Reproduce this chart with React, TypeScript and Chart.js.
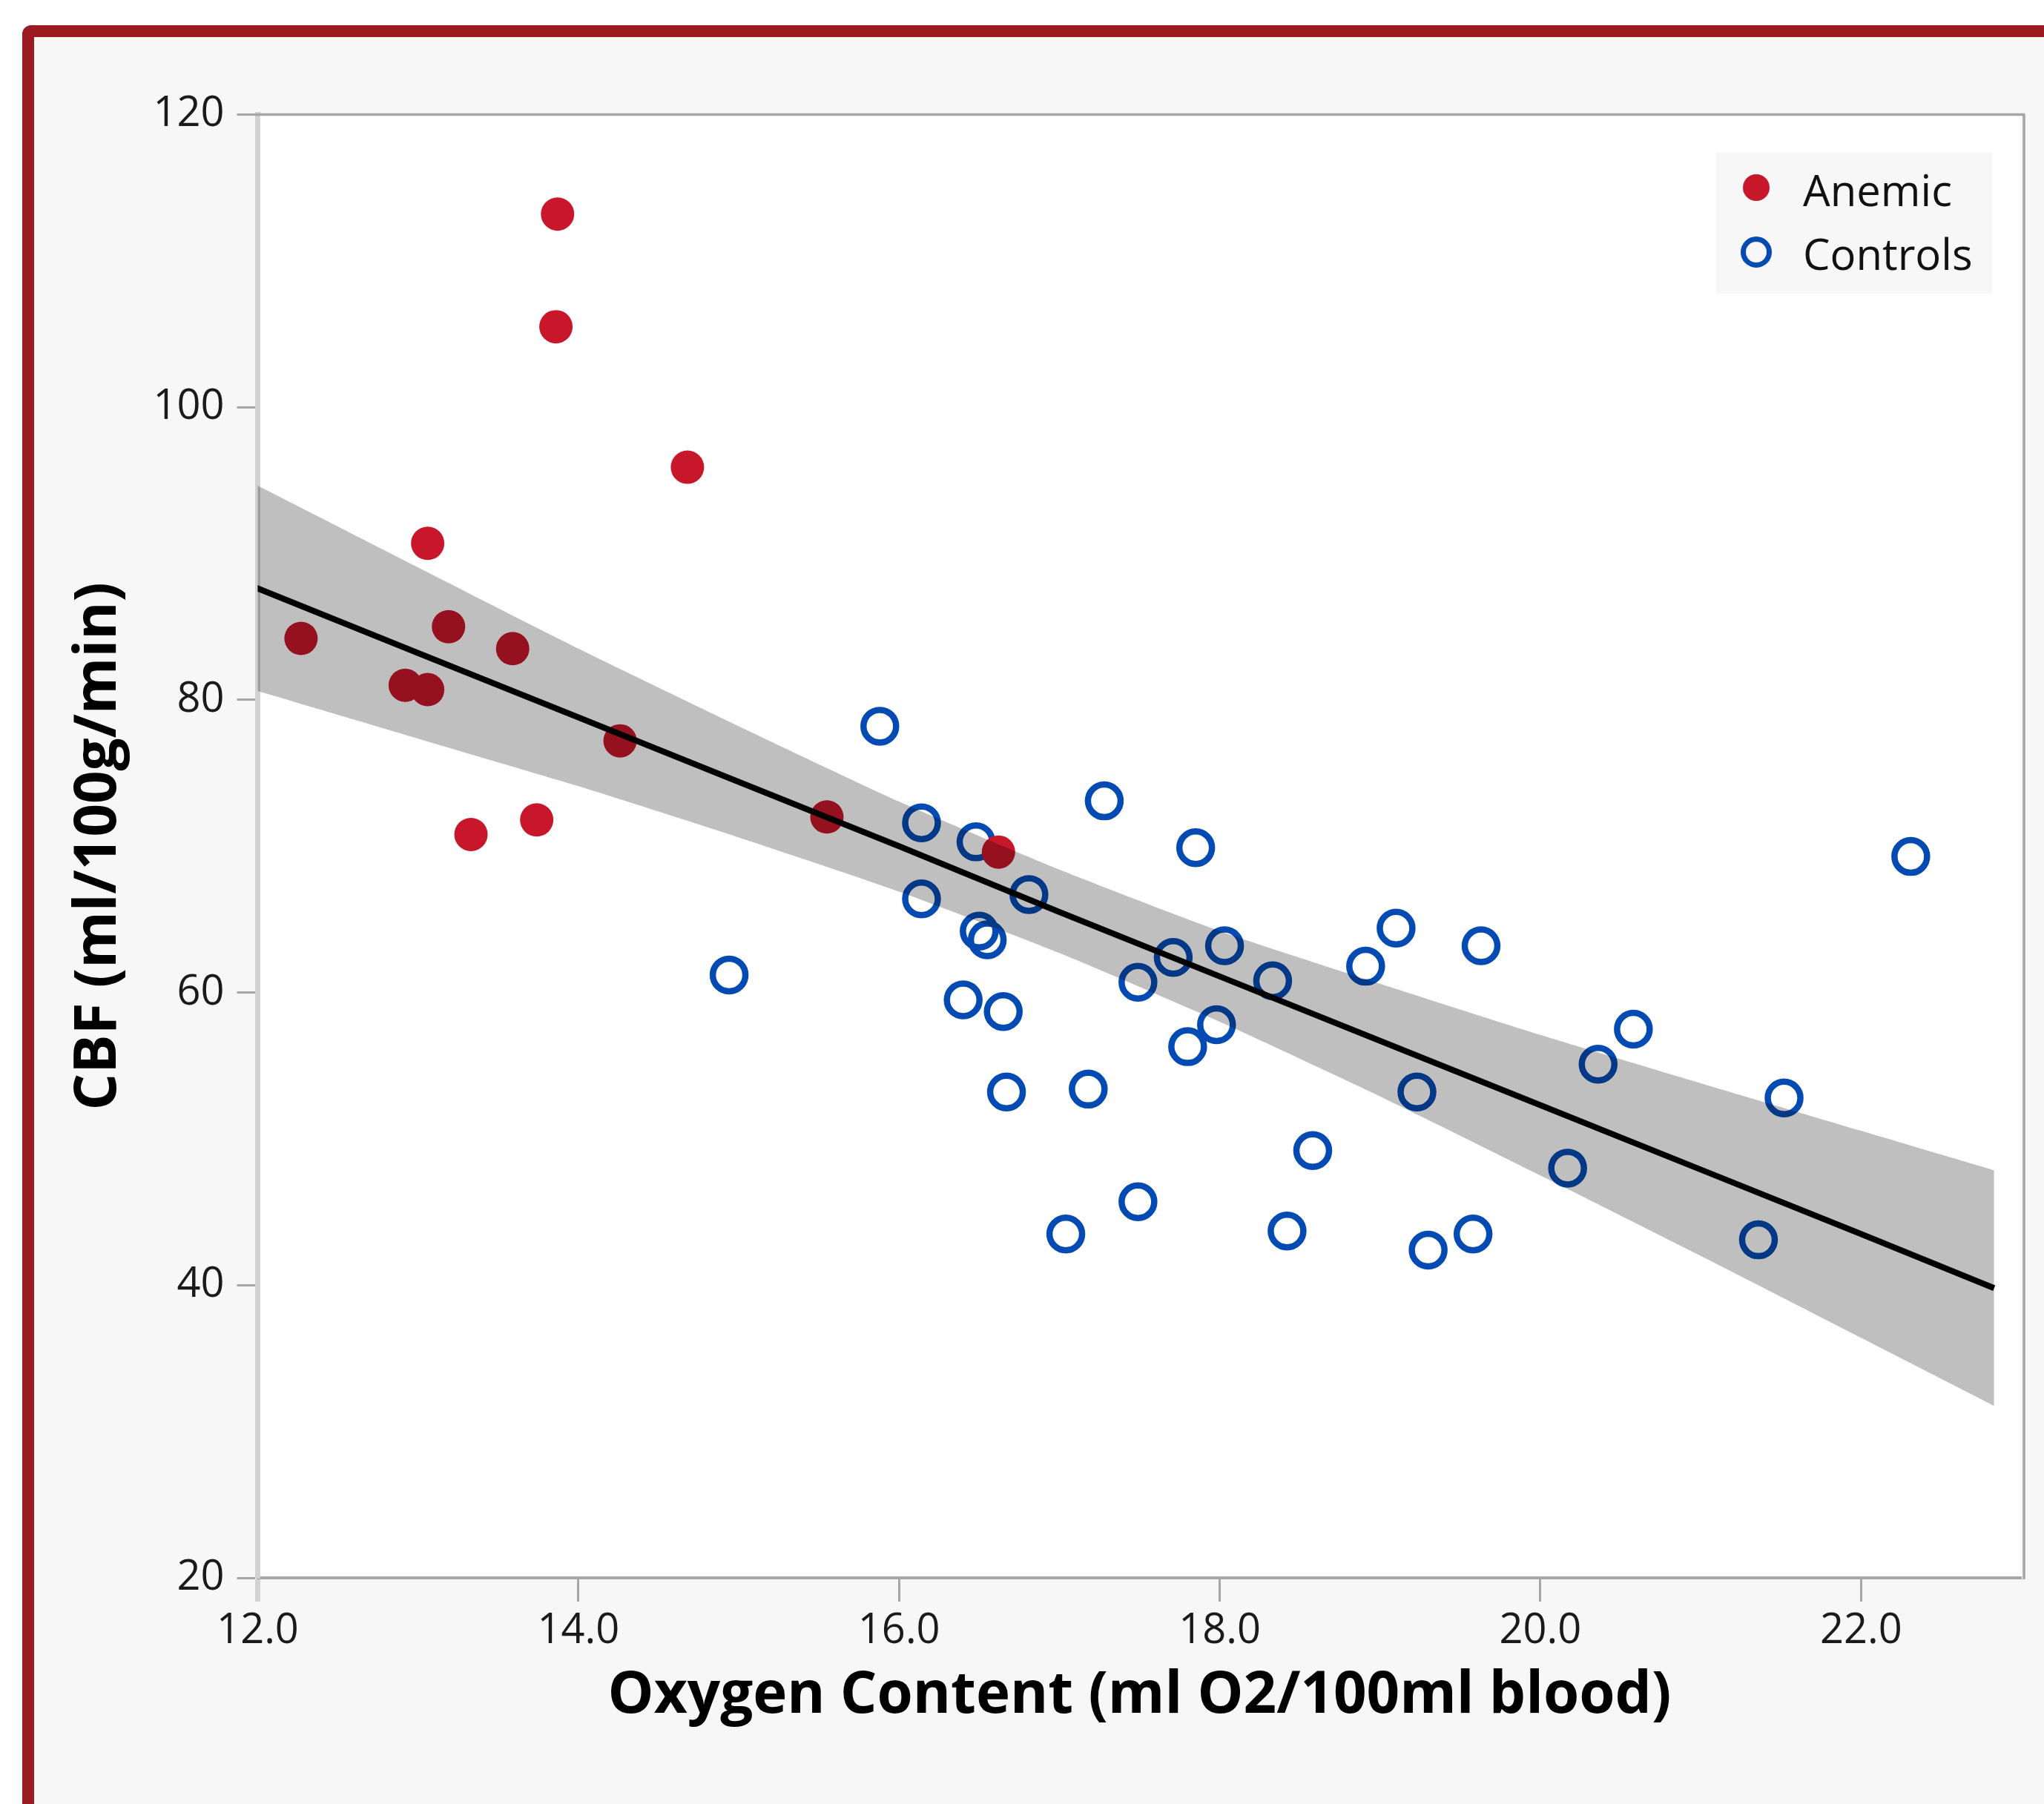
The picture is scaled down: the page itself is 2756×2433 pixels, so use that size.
import React, { useEffect, useRef } from 'react';
import { Chart, registerables } from 'chart.js';

Chart.register(...registerables);

// ---------- data ----------
const anemicLabel = 'Anemic';
const controlsLabel = 'Controls';

const anemicX = [12.27, 12.92, 13.06, 13.06, 13.19, 13.33, 13.59, 13.74, 13.87, 13.86, 14.26, 14.68, 15.55, 16.62];
const anemicY = [84.2, 81.0, 80.7, 90.7, 85.0, 70.8, 83.5, 71.8, 113.2, 105.5, 77.2, 95.9, 72.0, 69.6];

const controlsX = [14.94, 15.88, 16.14, 16.14, 16.40, 16.48, 16.50, 16.55, 16.65, 16.67, 16.81, 17.04, 17.18, 17.28, 17.49, 17.49, 17.71, 17.80, 17.85, 17.98, 18.03, 18.33, 18.42, 18.58, 18.91, 19.10, 19.23, 19.30, 19.58, 19.63, 20.17, 20.36, 20.58, 21.36, 21.52, 22.31];
const controlsY = [61.2, 78.2, 71.6, 66.4, 59.5, 70.3, 64.2, 63.6, 58.7, 53.2, 66.7, 43.5, 53.4, 73.1, 60.7, 45.7, 62.4, 56.3, 69.9, 57.8, 63.2, 60.8, 43.7, 49.2, 61.8, 64.4, 53.2, 42.4, 43.5, 63.2, 48.0, 55.1, 57.5, 43.1, 52.8, 69.3];

// fitted line and its confidence band, read at these x positions
const fitX = [11.97, 13, 14, 15, 16, 17, 18, 19, 20, 21, 22, 22.83];
const fitY = [87.75, 83.2, 78.8, 74.4, 70.0, 65.5, 61.1, 56.7, 52.3, 47.9, 43.5, 39.8];
const bandUpper = [94.8, 89.05, 83.5, 78.2, 73.05, 68.4, 64.2, 60.6, 57.1, 53.8, 50.55, 47.85];
const bandLower = [80.7, 77.35, 74.1, 70.6, 66.9, 62.7, 58.0, 52.9, 47.5, 42.0, 36.4, 31.75];

const xTicks = [12, 14, 16, 18, 20, 22];
const yTicks = [20, 40, 60, 80, 100, 120];

const xTitle = 'Oxygen Content (ml O2/100ml blood)';
const yTitle = 'CBF (ml/100g/min)';

// ---------- styles ----------
const W = 2756;
const H = 2433;
const RED = '#c8172b';
const BLUE = '#034bb2';
const FONT = "'Open Sans', 'Noto Sans', sans-serif";
const X_AXIS_H = 209;

const pts = (xs: number[], ys: number[]) => xs.map((x, i) => ({ x, y: ys[i] }));

export default function App() {
  const ref = useRef<HTMLCanvasElement | null>(null);

  useEffect(() => {
    const canvas = ref.current;
    if (!canvas) return;

    const plotBg = {
      id: 'plotBg',
      beforeDraw(chart: any) {
        const { ctx, chartArea: a } = chart;
        ctx.save();
        ctx.fillStyle = '#ffffff';
        ctx.fillRect(a.left, a.top, a.right - a.left, a.bottom - a.top);
        ctx.restore();
      },
    };

    const frame = {
      id: 'frame',
      afterDraw(chart: any) {
        const { ctx, chartArea: a } = chart;
        ctx.save();
        ctx.strokeStyle = '#a6a6a6';
        ctx.lineWidth = 3.5;
        ctx.beginPath();
        ctx.moveTo(a.left - 3.5, a.top);
        ctx.lineTo(a.right + 5, a.top);
        ctx.moveTo(a.right + 3.5, a.top);
        ctx.lineTo(a.right + 3.5, a.bottom + 2);
        ctx.stroke();
        ctx.restore();
      },
    };

    const chart = new Chart(canvas, {
      type: 'scatter',
      data: {
        datasets: [
          {
            type: 'line',
            label: 'fit',
            data: pts(fitX, fitY),
            borderColor: '#000000',
            borderWidth: 8,
            pointRadius: 0,
            fill: false,
            tension: 0,
            order: 0,
          } as any,
          {
            type: 'line',
            label: 'upper',
            data: pts(fitX, bandUpper),
            borderWidth: 0,
            borderColor: 'rgba(0,0,0,0)',
            pointRadius: 0,
            fill: false,
            tension: 0.2,
            order: 1,
            clip: false,
          } as any,
          {
            type: 'line',
            label: 'lower',
            data: pts(fitX, bandLower),
            borderWidth: 0,
            borderColor: 'rgba(0,0,0,0)',
            backgroundColor: 'rgba(0,0,0,0.25)',
            pointRadius: 0,
            fill: '-1',
            tension: 0.2,
            order: 1,
            clip: false,
          } as any,
          {
            label: anemicLabel,
            data: pts(anemicX, anemicY),
            pointRadius: 22.5,
            pointBackgroundColor: RED,
            pointBorderWidth: 0,
            order: 2,
          } as any,
          {
            label: controlsLabel,
            data: pts(controlsX, controlsY),
            pointRadius: 22,
            pointBackgroundColor: 'rgba(0,0,0,0)',
            pointBorderColor: BLUE,
            pointBorderWidth: 8.5,
            order: 2,
          } as any,
        ],
      },
      options: {
        responsive: false,
        animation: false,
        devicePixelRatio: 1,
        events: [],
        layout: { padding: { left: 0, top: 154.5, right: W - 2731, bottom: H - 2128 - X_AXIS_H } },
        plugins: {
          legend: { display: false },
          tooltip: { enabled: false },
          filler: { propagate: false },
        },
        scales: {
          x: {
            type: 'linear',
            position: 'bottom',
            min: 12,
            max: 23,
            afterBuildTicks: (axis: any) => {
              axis.ticks = xTicks.map((v) => ({ value: v }));
            },
            afterFit: (scale: any) => {
              scale.height = X_AXIS_H;
            },
            grid: {
              drawOnChartArea: false,
              drawTicks: true,
              tickLength: 32,
              tickColor: (c: any) => (c.index === 0 ? '#d2d2d2' : '#a6a6a6'),
              tickWidth: (c: any) => (c.index === 0 ? 7 : 3),
            },
            border: { display: true, color: '#a6a6a6', width: 4 },
            ticks: {
              padding: 6,
              color: '#1a1a1a',
              font: { family: FONT, size: 56 },
              maxRotation: 0,
              autoSkip: false,
              callback: (v: any) => Number(v).toFixed(1),
            },
            title: {
              display: true,
              text: xTitle,
              color: '#000000',
              font: { family: FONT, size: 78, weight: 'bold' },
              padding: { top: 0, bottom: 2 },
            },
          },
          y: {
            type: 'linear',
            position: 'left',
            min: 20,
            max: 120,
            afterBuildTicks: (axis: any) => {
              axis.ticks = yTicks.map((v) => ({ value: v }));
            },
            afterFit: (scale: any) => {
              scale.width = 347.5;
            },
            grid: {
              drawOnChartArea: false,
              drawTicks: true,
              tickLength: 28,
              tickColor: '#a6a6a6',
              tickWidth: 3,
            },
            border: { display: true, color: '#d2d2d2', width: 7 },
            ticks: {
              padding: 17,
              color: '#1a1a1a',
              font: { family: FONT, size: 56 },
              autoSkip: false,
              callback: (v: any) => String(v),
            },
            title: {
              display: true,
              text: yTitle,
              color: '#000000',
              font: { family: FONT, size: 78, weight: 'bold' },
              padding: { top: 87, bottom: 0 },
            },
          },
        },
      } as any,
      plugins: [plotBg, frame],
    });

    return () => chart.destroy();
  }, []);

  const legendText: React.CSSProperties = {
    position: 'absolute',
    left: 117,
    fontFamily: FONT,
    fontSize: 58,
    lineHeight: 1,
    color: '#111111',
    whiteSpace: 'nowrap',
  };

  return (
    <div style={{ position: 'fixed', left: 0, top: 0, width: W, height: H, overflow: 'hidden', background: '#ffffff' }}>
      <div
        style={{
          position: 'absolute',
          left: 30,
          top: 34,
          width: 3200,
          height: 3000,
          boxSizing: 'border-box',
          border: '16px solid #9a1c21',
          borderRadius: 12,
          background: '#f7f7f7',
        }}
      />
      <canvas ref={ref} width={W} height={H} style={{ position: 'absolute', left: 0, top: 0, width: W, height: H }} />
      <div style={{ position: 'absolute', left: 2314, top: 206, width: 372, height: 190, background: '#f7f7f7' }}>
        <div style={{ position: 'absolute', left: 36, top: 29, width: 36, height: 36, borderRadius: '50%', background: RED }} />
        <div style={{ ...legendText, top: 21 }}>{anemicLabel}</div>
        <div
          style={{
            position: 'absolute',
            left: 33,
            top: 113,
            width: 42,
            height: 42,
            boxSizing: 'border-box',
            border: `7px solid ${BLUE}`,
            borderRadius: '50%',
          }}
        />
        <div style={{ ...legendText, top: 107 }}>{controlsLabel}</div>
      </div>
    </div>
  );
}
